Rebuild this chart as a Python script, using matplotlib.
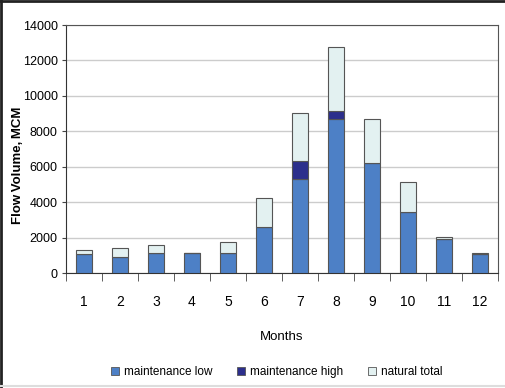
import numpy as np
import matplotlib.pyplot as plt
from matplotlib.lines import Line2D
from matplotlib.patches import Patch

plt.rcParams['font.family'] = ['Liberation Sans', 'DejaVu Sans']

months = [str(m) for m in range(1, 13)]
# absolute levels (stack tops)
maint_low = [1050, 900, 1150, 1130, 1130, 2600, 5330, 8680, 6200, 3430, 1920, 1100]
maint_high = [1050, 900, 1150, 1130, 1130, 2600, 6330, 9150, 6200, 3430, 1920, 1100]
natural_total = [1290, 1420, 1560, 1130, 1760, 4230, 9020, 12780, 8680, 5160, 2020, 1150]

c_low = '#4d80c6'
c_high = '#2c2f8c'
c_nat = '#e3f1f1'
edge = '#555555'

fig = plt.figure(figsize=(5.05, 3.88), dpi=100)
ax = fig.add_axes([66 / 505, 1 - 273 / 388, (498 - 66) / 505, (273 - 25) / 388])

x = np.arange(len(months))
low = np.array(maint_low)
high = np.array(maint_high) - low
nat = np.array(natural_total) - np.array(maint_high)
w = 0.42
ax.bar(x, low, w, color=c_low, edgecolor=edge, linewidth=0.8, zorder=3)
ax.bar(x, high, w, bottom=low, color=c_high, edgecolor=edge, linewidth=0.8, zorder=3)
ax.bar(x, nat, w, bottom=low + high, color=c_nat, edgecolor=edge, linewidth=0.8, zorder=3)

ax.set_xlim(-0.5, 11.5)
ax.set_ylim(0, 14000)
ax.set_yticks(range(0, 14001, 2000))
ax.yaxis.grid(True, color='#cccccc', linewidth=1, zorder=0)
ax.set_xticks(x)
ax.set_xticklabels(months, fontsize=10)
ax.set_xticks(np.arange(-0.5, 12, 1), minor=True)
ax.tick_params(axis='x', which='major', length=0, pad=16)
ax.tick_params(axis='x', which='minor', length=6, color='#444444', direction='out')
ax.tick_params(axis='y', length=3, color='#444444', labelsize=9, pad=3)
for s in ['left', 'bottom']:
    ax.spines[s].set_color('#333333')
for s in ['top', 'right']:
    ax.spines[s].set_color('#555555')

ax.set_xlabel('Months', fontsize=9.5, labelpad=16)
fig.text(18 / 505, 1 - 165 / 388, 'Flow\u2009Volume,\u2009MCM', rotation=90,
         fontsize=9.5, fontweight='bold', ha='center', va='center')

handles = [Patch(facecolor=c_low, edgecolor=edge, linewidth=0.6),
           Patch(facecolor=c_high, edgecolor=edge, linewidth=0.6),
           Patch(facecolor=c_nat, edgecolor=edge, linewidth=0.6)]
fig.legend(handles, ['maintenance low', 'maintenance high', 'natural total'],
           loc='center', bbox_to_anchor=(0.548, 1 - 372 / 388), ncol=3, frameon=False,
           fontsize=8.5, handlelength=0.7, handleheight=0.7, handletextpad=0.4,
           columnspacing=2.1)

# outer frame
fig.add_artist(Line2D([0, 1], [0.998, 0.998], color='#222222', linewidth=2, transform=fig.transFigure))
fig.add_artist(Line2D([0.002, 0.002], [0, 1], color='#222222', linewidth=2, transform=fig.transFigure))
fig.add_artist(Line2D([0, 1], [0.006, 0.006], color='#dddddd', linewidth=1.5, transform=fig.transFigure))

fig.savefig('out.png', dpi=100)
